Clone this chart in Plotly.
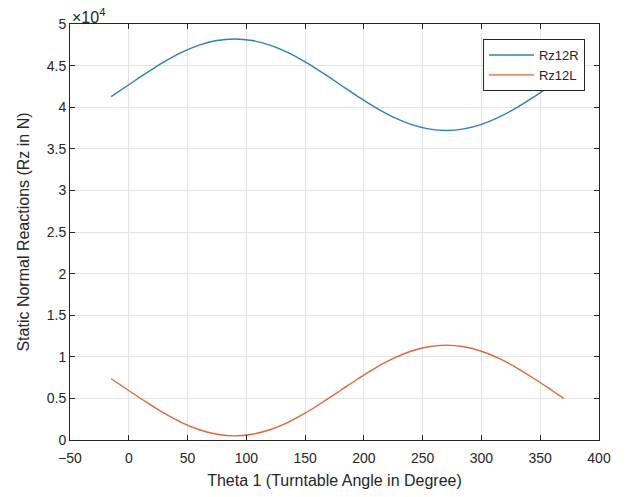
import plotly.graph_objects as go

theta = [-15, 0, 15, 30, 45, 60, 75, 90, 105, 120, 135, 150, 165, 180, 195,
         210, 225, 240, 255, 270, 285, 300, 315, 330, 345, 360, 370]
rz12r = [41280, 42700, 44120, 45450, 46590, 47460, 48010, 48200, 48010, 47460,
         46590, 45450, 44120, 42700, 41280, 39950, 38810, 37940, 37390, 37200,
         37390, 37940, 38810, 39950, 41280, 42700, 43650]
rz12l = [7360, 5950, 4540, 3225, 2100, 1230, 690, 500, 690, 1230, 2100, 3225,
         4540, 5950, 7360, 8675, 9800, 10670, 11210, 11400, 11210, 10670, 9800,
         8675, 7360, 5950, 5000]
ytick_vals = [0, 5000, 10000, 15000, 20000, 25000, 30000, 35000, 40000, 45000, 50000]
ytick_text = ["0", "0.5", "1", "1.5", "2", "2.5", "3", "3.5", "4", "4.5", "5"]
xtick_vals = [-50, 0, 50, 100, 150, 200, 250, 300, 350, 400]

fig = go.Figure()
fig.add_trace(go.Scatter(x=theta, y=rz12r, mode="lines", name="Rz12R",
                         line=dict(color="#2a82b8", width=1.4, shape="spline")))
fig.add_trace(go.Scatter(x=theta, y=rz12l, mode="lines", name="Rz12L",
                         line=dict(color="#d9683a", width=1.4, shape="spline")))

axis_common = dict(showline=True, linecolor="#262626", linewidth=1, mirror="ticks",
                   ticks="inside", ticklen=5, tickcolor="#262626",
                   showgrid=True, gridcolor="#e3e3e3", gridwidth=1, zeroline=False,
                   automargin=False,
                   tickfont=dict(family="Liberation Sans, Arial", size=14, color="#262626"))

fig.update_layout(
    width=617, height=489,
    margin=dict(l=62, r=26, t=16, b=57),
    paper_bgcolor="white", plot_bgcolor="white",
    font=dict(family="Liberation Sans, Arial", color="#262626"),
    xaxis=dict(range=[-50, 400], tickvals=xtick_vals, ticklabelstandoff=5,
               title=dict(text="Theta 1 (Turntable Angle in Degree)", standoff=10,
                          font=dict(size=16, color="#262626")),
               **axis_common),
    yaxis=dict(range=[0, 50000], tickvals=ytick_vals, ticktext=ytick_text,
               title=dict(text="Static Normal Reactions (Rz in N)", standoff=13,
                          font=dict(size=16, color="#262626")),
               **axis_common),
    legend=dict(x=0.9735, y=0.964, xanchor="right", yanchor="top",
                bordercolor="#262626", borderwidth=1, bgcolor="white",
                font=dict(size=13, color="#262626"), tracegroupgap=0,
                itemwidth=45),
    showlegend=True,
    annotations=[dict(text="×10<sup>4</sup>", xref="paper", yref="paper",
                      x=0.0, y=1.0, xanchor="left", yanchor="bottom", showarrow=False,
                      font=dict(size=16, color="#262626"), yshift=-4)],
)

fig.write_html("out.html")
